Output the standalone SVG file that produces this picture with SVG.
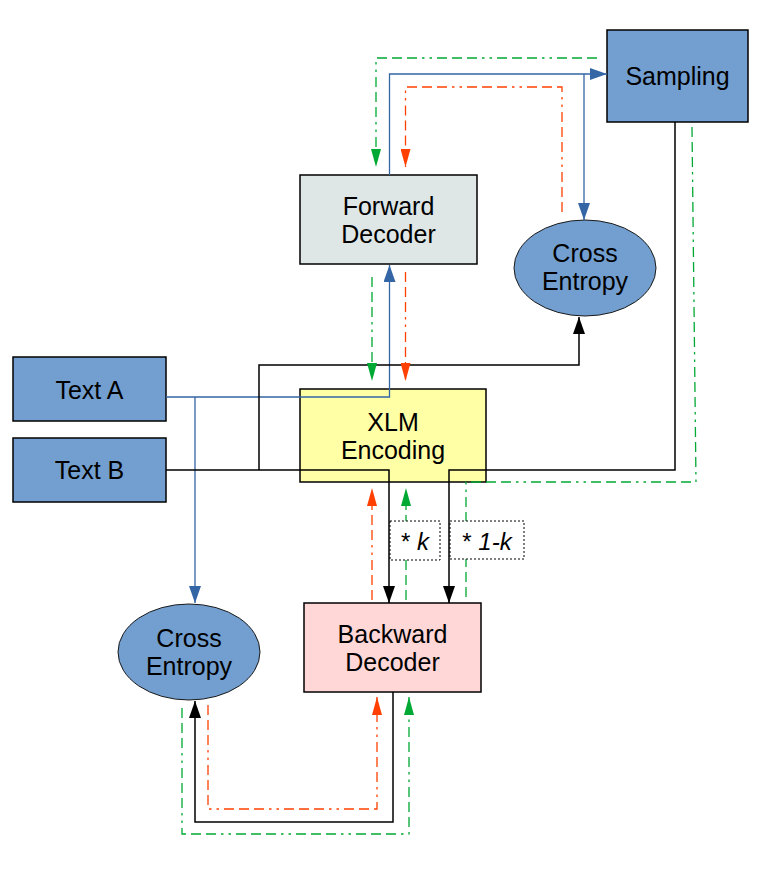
<svg xmlns="http://www.w3.org/2000/svg" width="766" height="876" viewBox="0 0 766 876">
<defs>
<style>
.box{stroke:#000;stroke-width:1.5}
.ell{fill:#729fcf;stroke:#1a1a1a;stroke-width:1}
.t{font-family:"Liberation Sans",Arial,sans-serif;font-size:25px;fill:#000;text-anchor:middle}
.lbl{font-family:"Liberation Sans",Arial,sans-serif;font-size:24px;fill:#000;text-anchor:middle}
.c{fill:none}
.blue{stroke:#3465a4;stroke-width:1.3}
.black{stroke:#000;stroke-width:1.5}
.green{stroke:#00a933;stroke-width:1.3;stroke-dasharray:10 5 10 5 10 5 2.5 5 2.5 5}
.orange{stroke:#ff4000;stroke-width:1.3;stroke-dasharray:10 5 10 5 10 5 2.5 5 2.5 5}
.tag{fill:#fff;stroke:#000;stroke-width:1;stroke-dasharray:2 2}
</style>
<marker id="aBlue" markerUnits="userSpaceOnUse" markerWidth="17" markerHeight="12" refX="17" refY="6" orient="auto"><path d="M0,0 L17,6 L0,12 z" fill="#3465a4"/></marker>
<marker id="aBlack" markerUnits="userSpaceOnUse" markerWidth="17" markerHeight="12" refX="17" refY="6" orient="auto"><path d="M0,0 L17,6 L0,12 z" fill="#000"/></marker>
<marker id="aGreen" markerUnits="userSpaceOnUse" markerWidth="18" markerHeight="10" refX="18" refY="5" orient="auto"><path d="M0,0 L18,5 L0,10 z" fill="#00a933"/></marker>
<marker id="aOrange" markerUnits="userSpaceOnUse" markerWidth="18" markerHeight="10" refX="18" refY="5" orient="auto"><path d="M0,0 L18,5 L0,10 z" fill="#ff4000"/></marker>
</defs>
<rect width="766" height="876" fill="#fff"/>

<g id="sampling">
<rect class="box" x="607" y="30" width="141" height="92" fill="#729fcf"/>
<text class="t" x="677.5" y="85">Sampling</text>
</g>
<g id="forward-decoder">
<rect class="box" x="300" y="175" width="177" height="89" fill="#dee7e5"/>
<text class="t" x="388.5" y="215">Forward</text>
<text class="t" x="388.5" y="243">Decoder</text>
</g>
<g id="cross-entropy-top">
<ellipse class="ell" cx="585" cy="268" rx="71" ry="48"/>
<text class="t" x="585" y="262">Cross</text>
<text class="t" x="585" y="290">Entropy</text>
</g>
<g id="text-a">
<rect class="box" x="13" y="357" width="153" height="64" fill="#729fcf"/>
<text class="t" x="89.5" y="399">Text A</text>
</g>
<g id="text-b">
<rect class="box" x="13" y="438" width="153" height="64" fill="#729fcf"/>
<text class="t" x="89.5" y="479">Text B</text>
</g>
<g id="xlm-encoding">
<rect class="box" x="300" y="389" width="186" height="93" fill="#ffffa6"/>
<text class="t" x="393" y="431">XLM</text>
<text class="t" x="393" y="459">Encoding</text>
</g>
<g id="backward-decoder">
<rect class="box" x="304" y="603" width="177" height="89" fill="#ffd7d7"/>
<text class="t" x="392.5" y="643">Backward</text>
<text class="t" x="392.5" y="671">Decoder</text>
</g>
<g id="cross-entropy-bottom">
<ellipse class="ell" cx="189" cy="652" rx="71" ry="48"/>
<text class="t" x="189" y="647">Cross</text>
<text class="t" x="189" y="675">Entropy</text>
</g>

<g id="connectors">
<path class="c blue" d="M166,397 H389.5 V265" marker-end="url(#aBlue)"/>
<path class="c blue" d="M195,397 V603" marker-end="url(#aBlue)"/>
<path class="c blue" d="M389.5,175 V74 H607" marker-end="url(#aBlue)"/>
<path class="c blue" d="M584,74 V220" marker-end="url(#aBlue)"/>

<path class="c black" d="M166,470 H389 V603" marker-end="url(#aBlack)"/>
<path class="c black" d="M259,470 V365 H579 V317" marker-end="url(#aBlack)"/>
<path class="c black" d="M675,122 V470 H449 V603" marker-end="url(#aBlack)"/>
<path class="c black" d="M393,692 V822 H195 V701" marker-end="url(#aBlack)"/>

<path class="c green" d="M597,58 H376 V167" marker-end="url(#aGreen)"/>
<path class="c green" d="M372,277 V381" marker-end="url(#aGreen)"/>
<path class="c green" d="M406,600 V488" marker-end="url(#aGreen)"/>
<path class="c green" d="M692,127 L696,482 H466 V600"/>
<path class="c green" d="M182,708 V834 H409 V697" marker-end="url(#aGreen)"/>

<path class="c orange" d="M562,212 V87 H405.5 V167" marker-end="url(#aOrange)"/>
<path class="c orange" d="M405.5,272 V381" marker-end="url(#aOrange)"/>
<path class="c orange" d="M372,600 V488" marker-end="url(#aOrange)"/>
<path class="c orange" d="M208,705 V809 H377 V697" marker-end="url(#aOrange)"/>

<g id="label-k">
<rect class="tag" x="390" y="521" width="50" height="39" fill="none"/>
<text class="lbl" x="415" y="550">* <tspan font-style="italic">k</tspan></text>
</g>
<g id="label-1-k">
<rect class="tag" x="450" y="521" width="74" height="38" fill="none"/>
<text class="lbl" x="487" y="550">* <tspan font-style="italic">1-k</tspan></text>
</g>
</g>
</svg>
